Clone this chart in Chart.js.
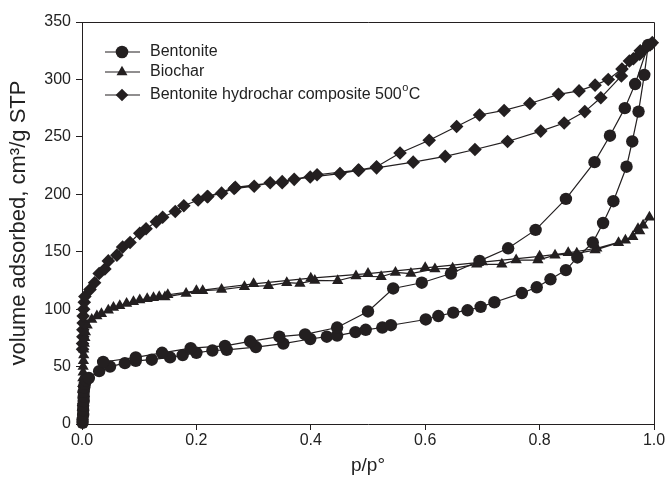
<!DOCTYPE html>
<html>
<head>
<meta charset="utf-8">
<script src="https://cdn.jsdelivr.net/npm/chart.js@4"></script>
<style>
  body { margin: 0; background: #fff; }
  #wrap { width: 667px; height: 481px; }
</style>
</head>
<body>
<div id="wrap"><canvas id="myChart" width="667" height="481"></canvas></div>
<script>
// values (p/p0, cm3/g STP)
const bentoniteX = [0.001, 0.001, 0.002, 0.002, 0.002, 0.003, 0.003, 0.003, 0.004, 0.005, 0.007, 0.012, 0.03, 0.049, 0.075, 0.094, 0.122, 0.154, 0.176, 0.2, 0.228, 0.253, 0.304, 0.352, 0.399, 0.428, 0.446, 0.478, 0.496, 0.525, 0.54, 0.601, 0.623, 0.649, 0.674, 0.697, 0.721, 0.769, 0.795, 0.819, 0.846, 0.866, 0.893, 0.911, 0.929, 0.952, 0.962, 0.973, 0.983, 0.99,
  0.967, 0.949, 0.923, 0.896, 0.846, 0.793, 0.745, 0.695, 0.645, 0.594, 0.544, 0.5, 0.446, 0.39, 0.345, 0.294, 0.25, 0.19, 0.14, 0.094, 0.037]
const bentoniteY = [1, 4, 8, 12, 16, 20, 24, 28, 32, 35, 38, 40, 46, 50, 53, 55, 56, 58, 60, 62, 64, 64.5, 67, 70, 74, 76, 77, 80, 82, 84, 86, 91, 94, 97, 99, 102, 106, 114, 119, 126, 134, 145, 158, 175, 194, 224, 246, 272, 304, 330,
  296, 275, 251, 228, 196, 169, 153, 142, 131, 123, 118, 98, 84, 78, 76, 72, 68, 66, 62, 58, 54]

const biocharX = [0.0005, 0.0005, 0.0008, 0.001, 0.001, 0.001, 0.001, 0.0012, 0.0015, 0.002, 0.002, 0.0025, 0.003, 0.003, 0.004, 0.005, 0.006, 0.009, 0.017, 0.026, 0.034, 0.046, 0.055, 0.066, 0.078, 0.09, 0.101, 0.114, 0.125, 0.135, 0.145, 0.182, 0.211, 0.244, 0.284, 0.326, 0.358, 0.381, 0.407, 0.447, 0.479, 0.523, 0.548, 0.575, 0.617, 0.648, 0.69, 0.734, 0.759, 0.797, 0.827, 0.865, 0.897, 0.938, 0.963, 0.972, 0.981, 0.992,
  0.975, 0.95, 0.9, 0.85, 0.8, 0.7, 0.6, 0.5, 0.4, 0.3, 0.2, 0.15]
const biocharY = [2, 6, 10, 15, 20, 25, 30, 35, 40, 45, 50, 55, 60, 65, 70, 75, 80, 86, 91, 94, 96, 99, 101.5, 103, 105, 106.5, 108, 109, 110, 110.7, 110.5, 113.7, 116, 117, 119.5, 120.4, 123, 122.4, 125, 124.7, 128.8, 128.2, 132, 131, 135, 135.5, 139, 139, 142.7, 142.7, 147, 148.6, 151.4, 157.8, 163, 170, 173, 180,
  168, 160, 153, 149, 146, 141, 136, 131, 127, 122, 116, 112.5]

const compositeX = [0.001, 0.001, 0.0015, 0.0015, 0.002, 0.002, 0.003, 0.004, 0.005, 0.014, 0.022, 0.03, 0.04, 0.046, 0.061, 0.071, 0.084, 0.101, 0.112, 0.13, 0.141, 0.163, 0.178, 0.203, 0.219, 0.244, 0.266, 0.301, 0.329, 0.35, 0.371, 0.399, 0.451, 0.484, 0.515, 0.579, 0.635, 0.687, 0.744, 0.802, 0.843, 0.879, 0.907, 0.943, 0.957, 0.976, 0.987, 0.997,
  0.993, 0.975, 0.964, 0.944, 0.92, 0.897, 0.869, 0.833, 0.783, 0.738, 0.695, 0.655, 0.607, 0.556, 0.515, 0.483, 0.411, 0.35, 0.268, 0.22]
const compositeY = [65, 70, 76, 82, 88, 94, 100, 106, 111, 117, 123, 131, 135, 142, 147, 154, 158, 166, 170, 176, 180, 185, 190, 195, 198, 201, 205, 207, 210, 210, 213, 215, 218, 221, 223, 228, 233, 239, 246, 255, 262, 272, 284, 303, 316, 325, 328, 332,
  330, 322, 318, 309, 300, 295, 290, 287, 279, 273, 269, 259, 247, 236, 224, 221, 217, 211, 206, 198]

const xTicks = [0, 0.2, 0.4, 0.6, 0.8, 1.0]
const yTicks = [0, 50, 100, 150, 200, 250, 300, 350]

const ink = '#231f20'
const font = 'Arial, "Liberation Sans", sans-serif'

function pts(xs, ys) {
  return xs.map((x, i) => ({ x: x, y: ys[i] }))
}

function makeSet(label, xs, ys, style, r) {
  return {
    label: label,
    data: pts(xs, ys),
    showLine: true,
    borderColor: ink,
    borderWidth: 1.2,
    backgroundColor: ink,
    pointBackgroundColor: ink,
    pointBorderColor: ink,
    pointBorderWidth: 0,
    pointStyle: style,
    pointRadius: r,
    tension: 0,
    clip: false
  }
}

// frame on top/right + inline legend like the original figure
const frameAndLegend = {
  id: 'frameAndLegend',
  afterDraw(chart) {
    const c = chart.ctx
    const a = chart.chartArea
    c.save()
    c.strokeStyle = ink
    c.lineWidth = 1
    c.beginPath()
    c.moveTo(a.left, a.top + 0.5)
    c.lineTo(a.right + 0.5, a.top + 0.5)
    c.lineTo(a.right + 0.5, a.bottom)
    c.stroke()

    const rows = [
      { text: 'Bentonite', style: 'circle', y: 52 },
      { text: 'Biochar', style: 'triangle', y: 72 },
      { text: 'Bentonite hydrochar composite 500', sup: 'o', tail: 'C', style: 'rectRot', y: 95 }
    ]
    rows.forEach(row => {
      c.strokeStyle = ink
      c.lineWidth = 1.2
      c.beginPath()
      c.moveTo(105, row.y)
      c.lineTo(140, row.y)
      c.stroke()
      c.fillStyle = ink
      Chart.helpers.drawPoint(c, { pointStyle: row.style, radius: 6.3, borderWidth: 0 }, 122, row.y)
      c.fillStyle = '#222'
      c.font = '16px ' + font
      c.textBaseline = 'middle'
      c.textAlign = 'left'
      c.fillText(row.text, 150, row.y)
      if (row.sup) {
        let w = c.measureText(row.text).width
        c.font = '11px ' + font
        c.fillText(row.sup, 150 + w + 0.5, row.y - 7)
        let w2 = c.measureText(row.sup).width
        c.font = '16px ' + font
        c.fillText(row.tail, 150 + w + w2 + 1, row.y)
      }
    })
    c.restore()
  }
}

const ctx = document.getElementById('myChart')
new Chart(ctx, {
  type: 'scatter',
  data: {
    datasets: [
      makeSet('Bentonite', bentoniteX, bentoniteY, 'circle', 6.2),
      makeSet('Biochar', biocharX, biocharY, 'triangle', 6.5),
      makeSet('Bentonite hydrochar composite 500°C', compositeX, compositeY, 'rectRot', 6.8)
    ]
  },
  options: {
    responsive: false,
    animation: false,
    layout: { padding: { top: 22, right: 13, left: 0, bottom: 0 } },
    plugins: {
      legend: { display: false },
      tooltip: { enabled: false }
    },
    scales: {
      x: {
        type: 'linear',
        min: 0,
        max: 1,
        afterFit: s => { s.height = 57 },
        afterBuildTicks: s => { s.ticks = xTicks.map(v => ({ value: v })) },
        border: { color: ink, width: 1 },
        grid: { drawOnChartArea: false, drawTicks: true, tickLength: 6, color: ink },
        ticks: {
          padding: 1,
          color: '#222',
          font: { size: 16, family: font },
          callback: v => v.toFixed(1)
        },
        title: {
          display: true,
          text: 'p/p°',
          color: '#222',
          font: { size: 19, family: font },
          padding: { top: 4, bottom: 4 }
        }
      },
      y: {
        type: 'linear',
        min: 0,
        max: 350,
        afterFit: s => { s.width = 82 },
        afterBuildTicks: s => { s.ticks = yTicks.map(v => ({ value: v })) },
        border: { color: ink, width: 1 },
        grid: { drawOnChartArea: false, drawTicks: true, tickLength: 6, color: ink },
        ticks: {
          padding: 5,
          color: '#222',
          font: { size: 16, family: font }
        },
        title: {
          display: true,
          text: 'volume adsorbed, cm³/g STP',
          color: '#222',
          font: { size: 22, family: font },
          padding: { top: 6, bottom: 4 }
        }
      }
    }
  },
  plugins: [frameAndLegend]
})
</script>
</body>
</html>
